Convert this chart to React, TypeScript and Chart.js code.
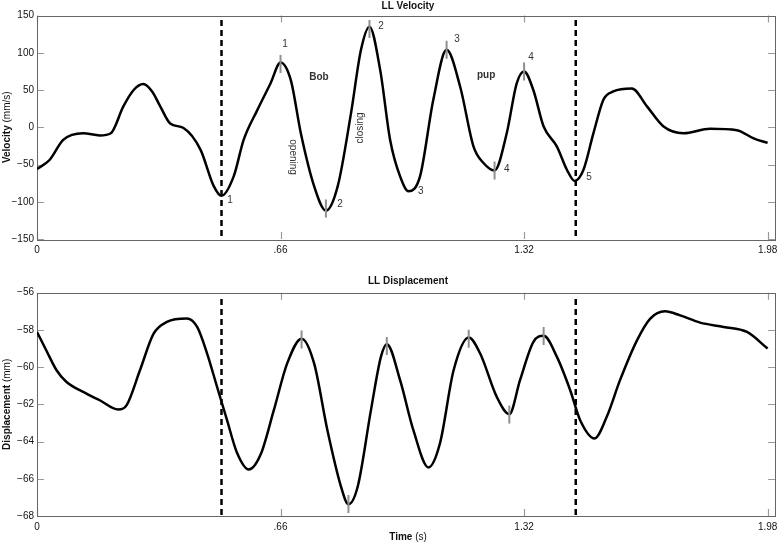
import React, { useEffect, useRef } from "react";
import { Chart, registerables } from "chart.js";

Chart.register(...registerables);

// ---------- data ----------
const xTickValues = [0, 0.66, 1.32, 1.98];
const xTickLabels = ["0", ".66", "1.32", "1.98"];
const velTickValues = [-150, -100, -50, 0, 50, 100, 150];
const dispTickValues = [-68, -66, -64, -62, -60, -58, -56];

const velTime = [0, 0.034, 0.071, 0.125, 0.17, 0.2, 0.234, 0.262, 0.288, 0.312, 0.334, 0.361, 0.397, 0.443, 0.479, 0.5, 0.533, 0.56, 0.597, 0.633, 0.66, 0.688, 0.715, 0.751, 0.783, 0.815, 0.851, 0.878, 0.901, 0.93, 0.957, 0.984, 1.007, 1.038, 1.074, 1.11, 1.147, 1.183, 1.21, 1.24, 1.273, 1.3, 1.32, 1.345, 1.373, 1.409, 1.436, 1.457, 1.481, 1.508, 1.535, 1.562, 1.612, 1.653, 1.698, 1.752, 1.824, 1.897, 1.942, 1.98];
const velValues = [-56, -44, -17, -8, -11, -8, 28, 50, 58, 48, 28, 5, -1, -30, -79, -92, -66, -17, 23, 59, 87, 63, -8, -79, -112, -79, 19, 104, 135, 77, -17, -66, -86, -66, 37, 104, 54, -26, -48, -58, -8, 59, 75, 50, 1, -26, -57, -72, -57, -8, 37, 48, 52, 28, 1, -8, -2, -4, -15, -21];

const dispTime = [0, 0.025, 0.053, 0.08, 0.125, 0.17, 0.22, 0.243, 0.279, 0.316, 0.352, 0.406, 0.434, 0.461, 0.488, 0.515, 0.542, 0.574, 0.606, 0.642, 0.678, 0.717, 0.751, 0.787, 0.824, 0.844, 0.869, 0.905, 0.932, 0.948, 0.984, 1.02, 1.061, 1.092, 1.129, 1.17, 1.201, 1.246, 1.28, 1.309, 1.345, 1.373, 1.409, 1.445, 1.472, 1.511, 1.544, 1.58, 1.626, 1.662, 1.702, 1.743, 1.797, 1.861, 1.924, 1.98];
const dispValues = [-58.11, -59.09, -60.17, -60.8, -61.33, -61.78, -62.28, -62.04, -60.17, -58.2, -57.57, -57.39, -57.84, -59.27, -61.06, -62.85, -64.6, -65.5, -64.7, -62.3, -59.8, -58.47, -59.8, -63.39, -66.43, -67.37, -66.43, -62.31, -59.45, -58.77, -60.7, -63.39, -65.39, -64.1, -60.17, -58.41, -59.27, -61.6, -62.53, -60.7, -58.65, -58.32, -59.45, -61.24, -62.85, -63.83, -62.67, -60.7, -58.56, -57.39, -57.0, -57.22, -57.61, -57.84, -58.11, -59.0];

const velMarkerTime = [0.66, 0.783, 0.901, 1.11, 1.24, 1.32];
const velMarkerValues = [85, -109, 132, 104, -58, 75];
const dispMarkerTime = [0.717, 0.844, 0.948, 1.17, 1.28, 1.373];
const dispMarkerValues = [-58.51, -67.36, -58.87, -58.47, -62.54, -58.33];

const boundaryTimes = [0.5, 1.46];
const velBoundaryRange = [144, -150];
const dispBoundaryRange = [-56.34, -68];

const noteTexts = ["1", "1", "2", "2", "3", "3", "4", "4", "5", "Bob", "pup", "opening", "closing"];
const noteTime = [0.672, 0.523, 0.821, 0.932, 1.138, 1.04, 1.339, 1.273, 1.496, 0.764, 1.217, 0.693, 0.875];
const noteValues = [112, -98, -103, 136, 118, -86, 94, -56, -67, 67, 70, -40, -1];

// ---------- helpers ----------
const FONT = "'Liberation Sans', Arial, Helvetica, sans-serif";
const fmt = (v: number) => (v < 0 ? "\u2212" + Math.abs(v) : String(v));

function drawMixed(ctx: CanvasRenderingContext2D, parts: [string, string][], cx: number, cy: number, rot = 0) {
  ctx.save();
  ctx.translate(cx, cy);
  if (rot) ctx.rotate(rot);
  ctx.textBaseline = "middle";
  ctx.textAlign = "left";
  ctx.fillStyle = "#111";
  let total = 0;
  const widths = parts.map(([t, f]) => {
    ctx.font = f;
    const w = ctx.measureText(t).width;
    total += w;
    return w;
  });
  let x = -total / 2;
  parts.forEach(([t, f], i) => {
    ctx.font = f;
    ctx.fillText(t, x, 0);
    x += widths[i];
  });
  ctx.restore();
}

type DecorCfg = {
  title: string;
  titleY: number;
  yTitle: [string, string][];
  yTicks: number[];
  xTitleY?: number;
  notes?: boolean;
};

function makeDecor(cfg: DecorCfg) {
  return {
    id: "decor",
    beforeDatasetsDraw(chart: any) {
      const ctx = chart.ctx as CanvasRenderingContext2D;
      const a = chart.chartArea;
      const xs = chart.scales.x;
      const ys = chart.scales.y;
      ctx.save();
      // inward ticks
      ctx.strokeStyle = "#9a9a9a";
      ctx.lineWidth = 1.2;
      ctx.beginPath();
      cfg.yTicks.forEach((v) => {
        const y = Math.round(ys.getPixelForValue(v)) + 0.5;
        ctx.moveTo(a.left, y);
        ctx.lineTo(a.left + 7, y);
        ctx.moveTo(a.right, y);
        ctx.lineTo(a.right - 7, y);
      });
      xTickValues.forEach((v) => {
        const x = Math.round(xs.getPixelForValue(v)) + 0.5;
        ctx.moveTo(x, a.top);
        ctx.lineTo(x, a.top + 7);
        ctx.moveTo(x, a.bottom);
        ctx.lineTo(x, a.bottom - 7);
      });
      ctx.stroke();
      // frame
      ctx.strokeStyle = "#666";
      ctx.lineWidth = 1;
      ctx.strokeRect(Math.round(a.left) + 0.5, Math.round(a.top) + 0.5, Math.round(a.right - a.left), Math.round(a.bottom - a.top));
      ctx.restore();
    },
    afterDraw(chart: any) {
      const ctx = chart.ctx as CanvasRenderingContext2D;
      const a = chart.chartArea;
      const xs = chart.scales.x;
      const ys = chart.scales.y;
      const cx = (a.left + a.right) / 2 + 2;
      drawMixed(ctx, [[cfg.title, `bold 10px ${FONT}`]], cx, cfg.titleY);
      drawMixed(ctx, cfg.yTitle, 7, (a.top + a.bottom) / 2, -Math.PI / 2);
      if (cfg.xTitleY !== undefined) {
        drawMixed(ctx, [["Time", `bold 10px ${FONT}`], [" (s)", `10px ${FONT}`]], cx, cfg.xTitleY);
      }
      if (cfg.notes) {
        noteTexts.forEach((t, i) => {
          const x = xs.getPixelForValue(noteTime[i]);
          const y = ys.getPixelForValue(noteValues[i]);
          ctx.save();
          ctx.translate(x, y);
          ctx.textAlign = "center";
          ctx.textBaseline = "middle";
          ctx.fillStyle = "#333";
          ctx.font = t === "Bob" || t === "pup" ? `bold 10px ${FONT}` : `10px ${FONT}`;
          if (t === "opening") ctx.rotate(Math.PI / 2);
          if (t === "closing") ctx.rotate(-Math.PI / 2);
          ctx.fillText(t, 0, 0);
          ctx.restore();
        });
      }
    },
  };
}

function buildConfig(opts: {
  time: number[];
  values: number[];
  mTime: number[];
  mValues: number[];
  bRange: number[];
  yMin: number;
  yMax: number;
  yStep: number;
  padTop: number;
  xAxisH: number;
  decor: any;
}) {
  const datasets: any[] = [
    {
      data: opts.mTime.map((t, i) => ({ x: t, y: opts.mValues[i] })),
      showLine: false,
      pointStyle: "line",
      rotation: 90,
      pointRadius: 9,
      pointBorderWidth: 2,
      pointBorderColor: "#8f8f8f",
      borderColor: "#8f8f8f",
    },
    {
      data: opts.time.map((t, i) => ({ x: t, y: opts.values[i] })),
      showLine: true,
      borderColor: "#000",
      borderWidth: 2.5,
      pointRadius: 0,
      cubicInterpolationMode: "monotone",
      fill: false,
    },
  ];
  boundaryTimes.forEach((t) => {
    datasets.push({
      data: opts.bRange.map((v) => ({ x: t, y: v })),
      showLine: true,
      borderColor: "#000",
      borderWidth: 2.5,
      borderDash: [6, 4],
      pointRadius: 0,
      fill: false,
    });
  });
  const tickFont = { family: FONT, size: 10 };
  return {
    type: "scatter",
    data: { datasets },
    options: {
      animation: false,
      responsive: false,
      maintainAspectRatio: false,
      events: [],
      layout: { autoPadding: false, padding: { top: opts.padTop, right: 3, left: 0, bottom: 0 } },
      plugins: { legend: { display: false }, tooltip: { enabled: false }, title: { display: false } },
      scales: {
        x: {
          type: "linear",
          min: 0,
          max: 2.0,
          afterBuildTicks: (s: any) => {
            s.ticks = xTickValues.map((v) => ({ value: v }));
          },
          ticks: {
            autoSkip: false,
            maxRotation: 0,
            padding: 5,
            color: "#111",
            font: tickFont,
            callback: (v: any) => {
              const i = xTickValues.findIndex((t) => Math.abs(t - Number(v)) < 1e-6);
              return i >= 0 ? xTickLabels[i] : "";
            },
          },
          grid: { display: false, drawTicks: false },
          border: { display: false },
          afterFit: (s: any) => {
            s.height = opts.xAxisH;
            s.paddingLeft = 0;
            s.paddingRight = 0;
          },
        },
        y: {
          type: "linear",
          min: opts.yMin,
          max: opts.yMax,
          ticks: {
            stepSize: opts.yStep,
            padding: 3,
            color: "#111",
            font: tickFont,
            callback: (v: any) => fmt(Number(v)),
          },
          grid: { display: false, drawTicks: false },
          border: { display: false },
          afterFit: (s: any) => {
            s.width = 37;
            s.paddingTop = 0;
            s.paddingBottom = 0;
          },
        },
      },
    },
    plugins: [opts.decor],
  } as any;
}

export default function App() {
  const topRef = useRef<HTMLCanvasElement>(null);
  const botRef = useRef<HTMLCanvasElement>(null);

  useEffect(() => {
    const c1 = new Chart(
      topRef.current!,
      buildConfig({
        time: velTime,
        values: velValues,
        mTime: velMarkerTime,
        mValues: velMarkerValues,
        bRange: velBoundaryRange,
        yMin: -150,
        yMax: 150,
        yStep: 50,
        padTop: 15.5,
        xAxisH: 31,
        decor: makeDecor({
          title: "LL Velocity",
          titleY: 6,
          yTitle: [["Velocity", `bold 10px ${FONT}`], [" (mm/s)", `10px ${FONT}`]],
          yTicks: velTickValues,
          notes: true,
        }),
      })
    );
    const c2 = new Chart(
      botRef.current!,
      buildConfig({
        time: dispTime,
        values: dispValues,
        mTime: dispMarkerTime,
        mValues: dispMarkerValues,
        bRange: dispBoundaryRange,
        yMin: -68,
        yMax: -56,
        yStep: 2,
        padTop: 22.7,
        xAxisH: 27,
        decor: makeDecor({
          title: "LL Displacement",
          titleY: 11,
          yTitle: [["Displacement", `bold 10px ${FONT}`], [" (mm)", `10px ${FONT}`]],
          yTicks: dispTickValues,
          xTitleY: 267,
        }),
      })
    );
    return () => {
      c1.destroy();
      c2.destroy();
    };
  }, []);

  return (
    <div style={{ position: "fixed", left: 0, top: 0, width: 778, height: 543, background: "#fff" }}>
      <canvas ref={topRef} width={778} height={270} style={{ position: "absolute", left: 0, top: 0, width: 778, height: 270 }} />
      <canvas ref={botRef} width={778} height={273} style={{ position: "absolute", left: 0, top: 270, width: 778, height: 273 }} />
    </div>
  );
}
